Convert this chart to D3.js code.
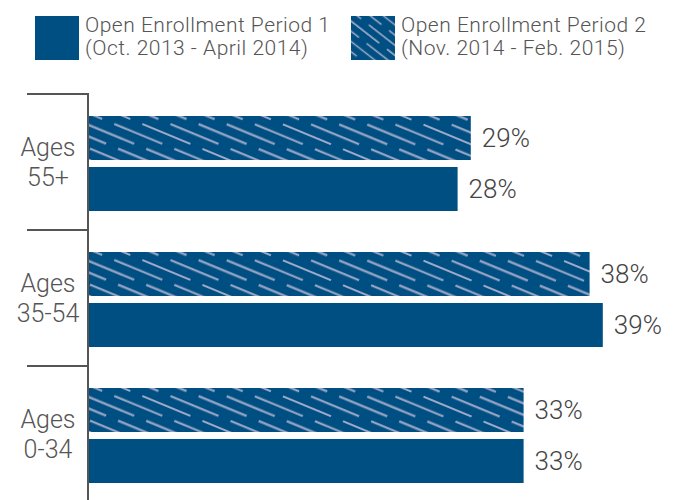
<!DOCTYPE html>
<html>
<head>
<meta charset="utf-8">
<script src="https://cdn.jsdelivr.net/npm/d3@7"></script>
<style>
  body { margin: 0; background: #fff; }
  svg { display: block; font-family: Roboto, "Open Sans", sans-serif; }
</style>
</head>
<body>
<svg width="673" height="500"></svg>
<script>
var groups = ['Ages 55+', 'Ages 35-54', 'Ages 0-34'];
var period1 = [28, 39, 33];   // Oct. 2013 - April 2014
var period2 = [29, 38, 33];   // Nov. 2014 - Feb. 2015
var legendLabels = [
  ['Open Enrollment Period 1', '(Oct.  2013 - April 2014)'],
  ['Open Enrollment Period 2', '(Nov.  2014 - Feb.  2015)']
];

var blue = '#004f82',
    hatchColor = '#9ea9c9',
    axisColor = '#555',
    textColor = '#555';

var svg = d3.select('svg');
var defs = svg.append('defs');

// staggered dashes, 5 rows per tile, drawn in a rotated frame
function makeHatch(id, transform) {
  var W = 65, rowH = 10.7, dash = 52;
  var pat = defs.append('pattern')
      .attr('id', id)
      .attr('patternUnits', 'userSpaceOnUse')
      .attr('width', W)
      .attr('height', rowH * 5)
      .attr('patternTransform', transform);
  pat.append('rect').attr('width', W).attr('height', rowH * 5).attr('fill', blue);
  for (var i = 0; i < 5; i++) {
    var s = (39 * i) % W, yy = rowH * i + rowH / 2;
    var segs = s + dash > W ? [[s, W], [0, s + dash - W]] : [[s, s + dash]];
    segs.forEach(function(sg) {
      pat.append('line')
         .attr('x1', sg[0]).attr('x2', sg[1])
         .attr('y1', yy).attr('y2', yy)
         .attr('stroke', hatchColor)
         .attr('stroke-width', 2.1);
    });
  }
}
makeHatch('hatch', 'rotate(22.5)');
makeHatch('hatchLegend', 'rotate(38) scale(0.75)');

var rows = groups.map(function(g, i) {
  return {group: g, values: [{key: 'p2', v: period2[i]}, {key: 'p1', v: period1[i]}]};
});

var x = d3.scaleLinear().domain([0, 10]).range([88, 220]);
var y0 = d3.scaleBand().domain(groups).range([94, 502]).paddingInner(0).paddingOuter(0);
var y1 = d3.scaleBand().domain(['p2', 'p1']).range([22, 117]).paddingInner(0.137);

var g = svg.selectAll('g.row')
  .data(rows)
  .enter().append('g')
  .attr('class', 'row')
  .attr('transform', function(d) { return 'translate(0,' + y0(d.group) + ')'; });

g.selectAll('rect')
  .data(function(d) { return d.values; })
  .enter().append('rect')
  .attr('x', x(0))
  .attr('y', function(d) { return y1(d.key); })
  .attr('width', function(d) { return x(d.v) - x(0); })
  .attr('height', y1.bandwidth())
  .attr('fill', function(d) { return d.key === 'p2' ? 'url(#hatch)' : blue; });

g.selectAll('text.val')
  .data(function(d) { return d.values; })
  .enter().append('text')
  .attr('class', 'val')
  .attr('x', function(d) { return x(d.v) + 11; })
  .attr('y', function(d) { return y1(d.key) + y1.bandwidth() / 2 + 9; })
  .attr('fill', '#444')
  .style('font-size', '26px')
  .style('font-weight', 300)
  .text(function(d) { return d.v + '%'; });

// category labels, two lines
g.append('text')
  .attr('text-anchor', 'middle')
  .attr('fill', textColor)
  .style('font-size', '25px')
  .style('font-weight', 300)
  .selectAll('tspan')
  .data(function(d) { var p = d.group.split(' '); return [p[0], p[1]]; })
  .enter().append('tspan')
  .attr('x', 48)
  .attr('y', function(d, i) { return 62 + i * 30; })
  .text(function(d) { return d; });

// group separators and axis line
g.append('line')
  .attr('x1', 27).attr('x2', 88)
  .attr('y1', 0).attr('y2', 0)
  .attr('stroke', axisColor).attr('stroke-width', 2);

svg.append('line')
  .attr('x1', 88).attr('x2', 88)
  .attr('y1', y0.range()[0] - 1).attr('y2', 500)
  .attr('stroke', axisColor).attr('stroke-width', 2);

// legend
var legendX = [35, 351];
var leg = svg.selectAll('g.legend')
  .data(legendLabels)
  .enter().append('g')
  .attr('class', 'legend')
  .attr('transform', function(d, i) { return 'translate(' + legendX[i] + ',16)'; });

leg.append('rect')
  .attr('width', 44).attr('height', 44)
  .attr('fill', function(d, i) { return i === 0 ? blue : 'url(#hatchLegend)'; });

leg.append('text')
  .attr('fill', textColor)
  .style('font-size', '21px')
  .style('font-weight', 300)
  .style('letter-spacing', '0.5px')
  .selectAll('tspan')
  .data(function(d) { return d; })
  .enter().append('tspan')
  .attr('x', 50)
  .attr('y', function(d, i) { return 16 + i * 23; })
  .text(function(d) { return d; });
</script>
</body>
</html>
